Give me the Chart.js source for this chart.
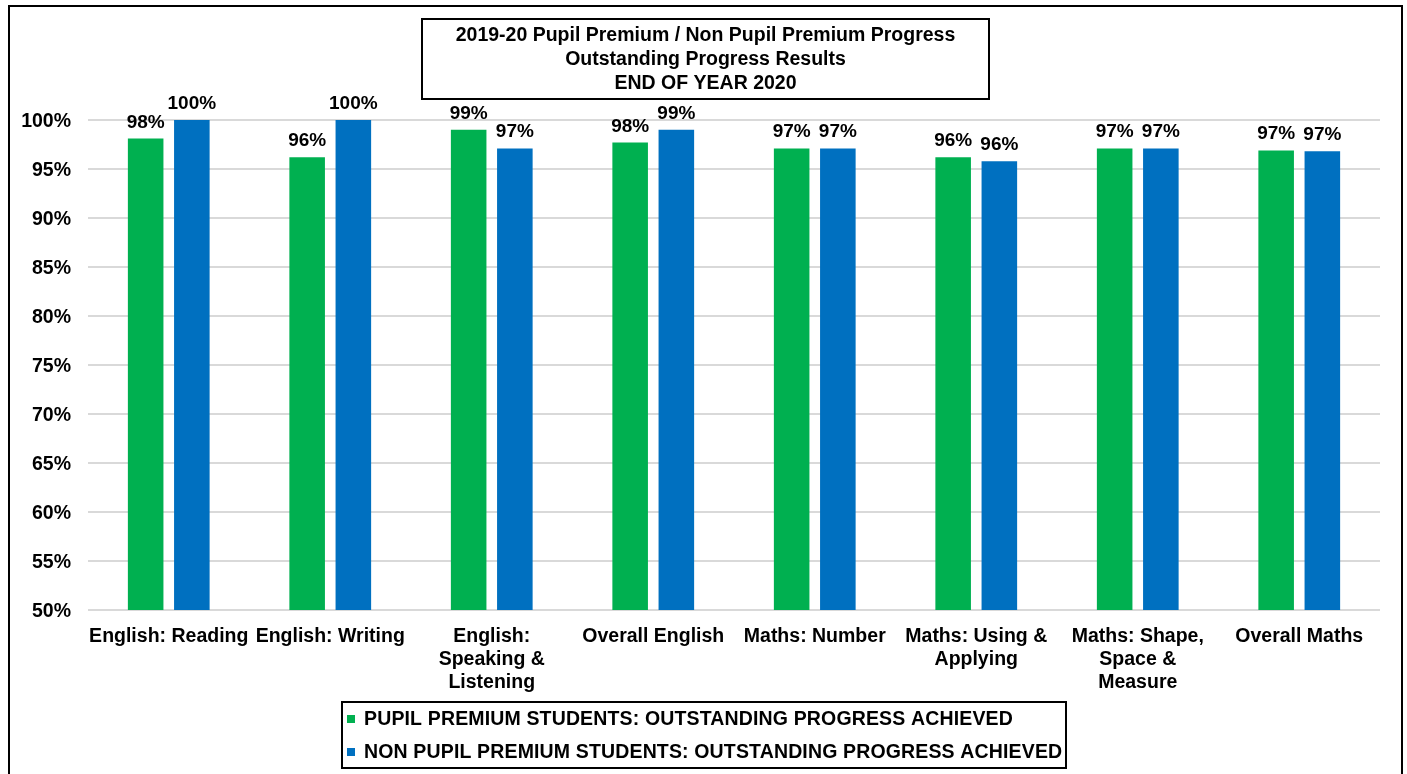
<!DOCTYPE html>
<html>
<head>
<meta charset="utf-8">
<script src="https://cdn.jsdelivr.net/npm/chart.js@4.4.0/dist/chart.umd.min.js"></script>
<style>
  html, body { margin: 0; padding: 0; background: #fff; }
  #wrap { position: relative; width: 1407px; height: 774px; }
  canvas { display: block; }
</style>
</head>
<body>
<div id="wrap"><canvas id="c" width="1407" height="774"></canvas></div>
<script>
const categories = [
  ["English: Reading"],
  ["English: Writing"],
  ["English:", "Speaking &", "Listening"],
  ["Overall English"],
  ["Maths: Number"],
  ["Maths: Using &", "Applying"],
  ["Maths: Shape,", "Space &", "Measure"],
  ["Overall Maths"]
];
const pupilPremium = [98.1, 96.2, 99.0, 97.7, 97.1, 96.2, 97.1, 96.9];
const nonPupilPremium = [100, 100, 97.1, 99.0, 97.1, 95.8, 97.1, 96.8];
const seriesNames = [
  "PUPIL PREMIUM STUDENTS: OUTSTANDING PROGRESS ACHIEVED",
  "NON PUPIL PREMIUM STUDENTS: OUTSTANDING PROGRESS ACHIEVED"
];
const titleLines = [
  "2019-20 Pupil Premium / Non Pupil Premium Progress",
  "Outstanding Progress Results",
  "END OF YEAR 2020"
];
const yTickValues = [50, 55, 60, 65, 70, 75, 80, 85, 90, 95, 100];

const FONT = '"Liberation Sans", Arial, sans-serif';
const GREEN = '#00B050';
const BLUE = '#0070C0';

const decorPlugin = {
  id: 'decor',
  beforeDraw(chart) {
    const ctx = chart.ctx;
    ctx.save();
    ctx.fillStyle = '#fff';
    ctx.fillRect(0, 0, chart.width, chart.height);
    ctx.strokeStyle = '#000';
    ctx.lineWidth = 2;
    ctx.strokeRect(9, 6, 1393, 780);
    ctx.restore();
  },
  afterDraw(chart) {
    const ctx = chart.ctx;
    ctx.save();
    ctx.strokeStyle = '#000';
    ctx.lineWidth = 2;
    ctx.strokeRect(422, 19, 567, 80);
    ctx.fillStyle = '#000';
    ctx.font = 'bold 19.5px ' + FONT;
    ctx.textAlign = 'center';
    ctx.textBaseline = 'middle';
    titleLines.forEach((t, i) => ctx.fillText(t, 705.5, 35.5 + i * 24));
    ctx.strokeRect(342, 702, 724, 66);
    ctx.textAlign = 'left';
    if ('letterSpacing' in ctx) ctx.letterSpacing = '0.15px';
    chart.data.datasets.forEach((d, i) => {
      const y = 719 + i * 33;
      ctx.fillStyle = d.backgroundColor;
      ctx.fillRect(347, y - 4, 8, 8);
      ctx.fillStyle = '#000';
      ctx.fillText(d.label, 364, y + 1);
    });
    ctx.restore();
  },
  afterDatasetsDraw(chart) {
    const ctx = chart.ctx;
    ctx.save();
    ctx.fillStyle = '#000';
    ctx.font = 'bold 19px ' + FONT;
    ctx.textAlign = 'center';
    ctx.textBaseline = 'alphabetic';
    chart.data.datasets.forEach((ds, di) => {
      const meta = chart.getDatasetMeta(di);
      meta.data.forEach((bar, i) => {
        ctx.fillText(Math.round(ds.data[i]) + '%', bar.x, bar.y - 11);
      });
    });
    ctx.restore();
  }
};

new Chart(document.getElementById('c'), {
  type: 'bar',
  data: {
    labels: categories,
    datasets: [
      { label: seriesNames[0], data: pupilPremium, backgroundColor: GREEN, barPercentage: 0.77, categoryPercentage: 0.572 },
      { label: seriesNames[1], data: nonPupilPremium, backgroundColor: BLUE, barPercentage: 0.77, categoryPercentage: 0.572 }
    ]
  },
  options: {
    responsive: false,
    animation: false,
    events: [],
    layout: { padding: { top: 120, right: 27, bottom: 0, left: 0 } },
    plugins: { legend: { display: false }, title: { display: false }, tooltip: { enabled: false } },
    scales: {
      x: {
        grid: { display: false, drawTicks: false },
        border: { display: false },
        ticks: {
          autoSkip: false, maxRotation: 0, minRotation: 0, padding: 15,
          color: '#000',
          font: { family: FONT, size: 19.5, weight: 'bold', lineHeight: '23px' }
        },
        afterFit(s) { s.height = 164; }
      },
      y: {
        min: 50, max: 100,
        afterBuildTicks(s) { s.ticks = yTickValues.map(v => ({ value: v })); },
        grid: { color: '#d9d9d9', lineWidth: 2, drawTicks: false },
        border: { display: false },
        ticks: {
          padding: 17, color: '#000', labelOffset: 2,
          font: { family: FONT, size: 19.5, weight: 'bold' },
          callback: v => v + '%'
        },
        afterFit(s) { s.width = 88; }
      }
    }
  },
  plugins: [decorPlugin]
});
</script>
</body>
</html>
